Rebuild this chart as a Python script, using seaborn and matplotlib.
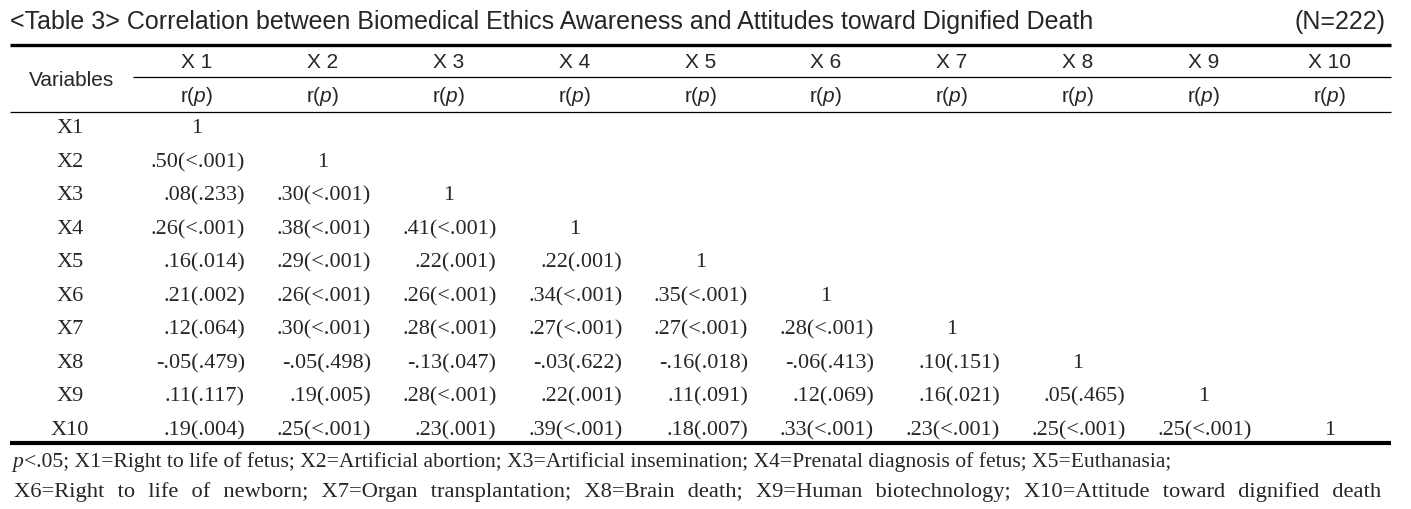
import matplotlib
matplotlib.use("Agg")
import matplotlib.pyplot as plt
import pandas as pd
import seaborn as sns

# dados da tabela (triangulo inferior, sem a diagonal)
variables = ["X1", "X2", "X3", "X4", "X5", "X6", "X7", "X8", "X9", "X10"]
r_values = [
    [],
    [.50],
    [.08, .30],
    [.26, .38, .41],
    [.16, .29, .22, .22],
    [.21, .26, .26, .34, .35],
    [.12, .30, .28, .27, .27, .28],
    [-.05, -.05, -.13, -.03, -.16, -.06, .10],
    [.11, .19, .28, .22, .11, .12, .16, .05],
    [.19, .25, .23, .39, .18, .33, .23, .25, .25],
]
p_values = [
    [],
    ["<.001"],
    [".233", "<.001"],
    ["<.001", "<.001", "<.001"],
    [".014", "<.001", ".001", ".001"],
    [".002", "<.001", "<.001", "<.001", "<.001"],
    [".064", "<.001", "<.001", "<.001", "<.001", "<.001"],
    [".479", ".498", ".047", ".622", ".018", ".413", ".151"],
    [".117", ".005", "<.001", ".001", ".091", ".069", ".021", ".465"],
    [".004", "<.001", ".001", "<.001", ".007", "<.001", "<.001", "<.001", "<.001"],
]
title = "<Table 3> Correlation between Biomedical Ethics Awareness and Attitudes toward Dignified Death"
sample_note = "(N=222)"
footnote_1 = ("<.05; X1=Right to life of fetus; X2=Artificial abortion; X3=Artificial insemination; "
              "X4=Prenatal diagnosis of fetus; X5=Euthanasia;")
footnote_2 = ("X6=Right to life of newborn; X7=Organ transplantation; X8=Brain death; "
              "X9=Human biotechnology; X10=Attitude toward dignified death")


def fmt_r(v):
    # .50 / -.05 (sem o zero antes do ponto)
    return f"{v:.2f}".replace("0.", ".", 1)


rows = []
for i, var in enumerate(variables):
    for j in range(i + 1):
        if j == i:
            txt = "1"
        else:
            txt = f"{fmt_r(r_values[i][j])}({p_values[i][j]})"
        rows.append({"row": i, "col": j, "text": txt, "diag": j == i})
cells = pd.DataFrame(rows)

sns.set_theme(style="white")
plt.rcParams["mathtext.fontset"] = "custom"
plt.rcParams["mathtext.it"] = "Liberation Sans:italic"
plt.rcParams["mathtext.rm"] = "Liberation Sans"
SANS = ["Liberation Sans", "DejaVu Sans"]
SERIF = ["Liberation Serif", "DejaVu Serif"]
plt.rcParams["font.family"] = SANS

W, H = 1411, 510
fig = plt.figure(figsize=(W / 100, H / 100), dpi=100)
ax = fig.add_axes([0, 0, 1, 1])
ax.set_xlim(0, W)
ax.set_ylim(H, 0)
ax.axis("off")

left, right = 10, 1391
col0, col_w = 197, 125.8
row0, row_h = 129, 33.5
label_x = 70
right_off = 48

col_x = [col0 + j * col_w for j in range(len(variables))]
row_y = [row0 + i * row_h for i in range(len(variables))]


def text_width(s, **kw):
    # largura de um texto em pixels (via renderer)
    t = ax.text(0, 0, s, **kw)
    bb = t.get_window_extent(fig.canvas.get_renderer())
    t.remove()
    return bb.width


# titulo
ax.text(left, 22, title, ha="left", va="center", fontsize=18, family=SANS)
ax.text(1386, 22, sample_note, ha="right", va="center", fontsize=18, family=SANS)

# linhas da tabela
ax.hlines(46, left, right, color="black", lw=2.4)
ax.hlines(78, 133, right, color="black", lw=0.9)
ax.hlines(113, left, right, color="black", lw=0.9)
ax.hlines(444, left, right, color="black", lw=3.0)

# cabecalho
ax.text(label_x + 2, 80, "Variables", ha="center", va="center", fontsize=15, family=SANS)
for j, var in enumerate(variables):
    ax.text(col_x[j], 63, var.replace("X", "X "), ha="center", va="center", fontsize=15, family=SANS)
    ax.text(col_x[j], 97, r"r($p$)", ha="center", va="center", fontsize=15, family=SANS)

# corpo
for i, var in enumerate(variables):
    ax.text(label_x, row_y[i], var, ha="center", va="center", fontsize=16, family=SERIF)
for _, c in cells.iterrows():
    if c["diag"]:
        x, ha = col_x[c["col"]], "center"
    else:
        x, ha = col_x[c["col"]] + right_off, "right"
    ax.text(x, row_y[c["row"]], c["text"], ha=ha, va="center", fontsize=16, family=SERIF)

# notas de rodape
fig.canvas.draw()
foot_kw = dict(va="baseline", fontsize=15.6, family=SERIF)
p_w = text_width("p", style="italic", **foot_kw)
ax.text(12, 467, "p", ha="left", style="italic", **foot_kw)
ax.text(12 + p_w + 1, 467, footnote_1, ha="left", **foot_kw)

# segunda linha justificada: espacos extras com "hair space"
foot2_kw = dict(foot_kw, fontsize=16.2)
hair = "\u200a"
hair_w = (text_width("a" + hair * 20 + "a", **foot2_kw) - text_width("aa", **foot2_kw)) / 20
natural_w = text_width(footnote_2, **foot2_kw)
n_gaps = footnote_2.count(" ")
n_hair = max(0, round((1378 - natural_w) / n_gaps / hair_w)) if hair_w > 0 else 0
line_2 = footnote_2.replace(" ", " " + hair * n_hair)
ax.text(14, 497, line_2, ha="left", **foot2_kw)

fig.savefig("out.png", dpi=100)
plt.close(fig)
